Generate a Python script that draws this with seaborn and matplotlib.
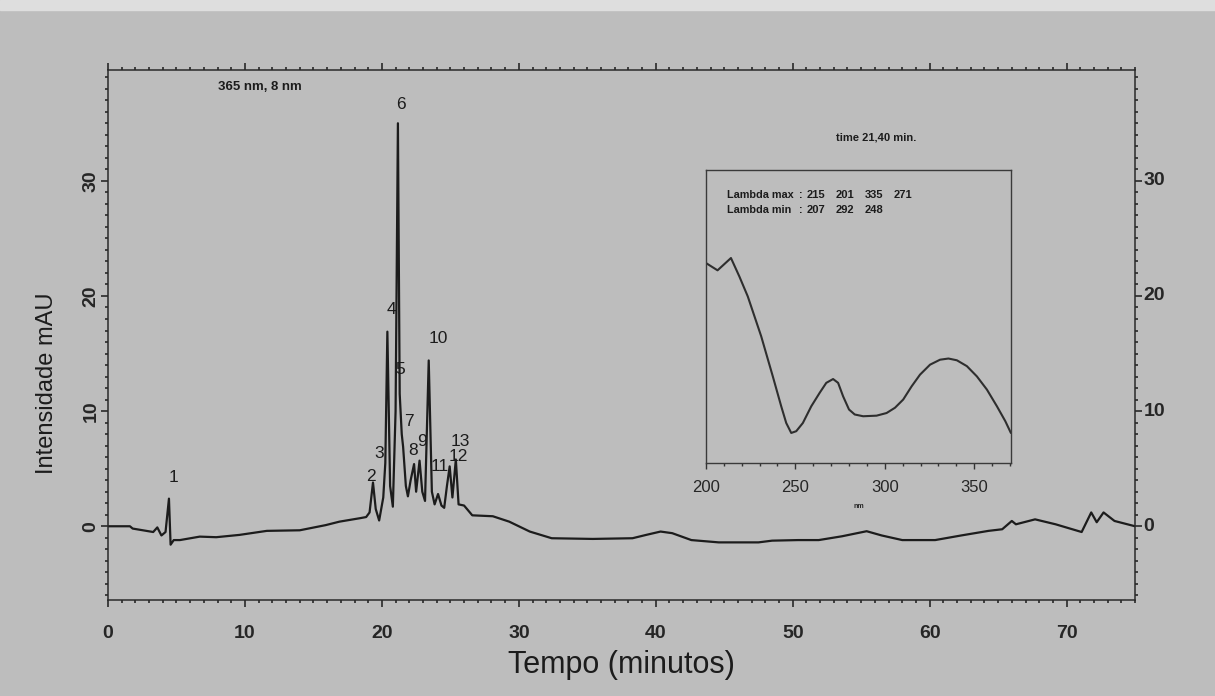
"""
Cromatograma (365 nm) com espectro UV do pico 6 em destaque.
Valores lidos da figura digitalizada.
"""

import matplotlib.pyplot as plt
import numpy as np
import pandas as pd
import seaborn as sns
from matplotlib.patches import Rectangle
from matplotlib.ticker import MultipleLocator

sns.set_theme(style='ticks')
plt.rcParams['font.family'] = ['Liberation Sans', 'DejaVu Sans']

BG = '#bdbdbd'
INK = '#1c1c1c'

# cromatograma: tempo (min) e intensidade (mAU)
tempo = [
    0, 1.6, 1.8, 3.3, 3.6, 3.9, 4.2, 4.45, 4.57, 4.8, 5.25, 6.7, 7.9, 9.6,
    11.6, 14.0, 15.9, 16.9, 18.4, 18.85, 19.1, 19.35, 19.55, 19.8, 20.1,
    20.25, 20.4, 20.6, 20.8, 21.0, 21.17, 21.3, 21.45, 21.55, 21.75, 21.9,
    22.1, 22.35, 22.5, 22.75, 22.95, 23.15, 23.42, 23.65, 23.85, 24.1,
    24.35, 24.55, 24.75, 24.95, 25.15, 25.4, 25.6, 26.0, 26.6, 28.1, 29.3,
    30.8, 32.4, 35.4, 38.3, 39.3, 40.35, 41.2, 42.6, 44.6, 47.5, 48.5, 50.4,
    51.9, 53.6, 55.4, 56.5, 58.0, 60.4, 62.3, 64.3, 65.3, 66.0, 66.3, 67.7,
    69.2, 71.1, 71.8, 72.2, 72.7, 73.5, 75.0,
]
intensidade = [
    0.0, 0.0, -0.2, -0.5, -0.1, -0.8, -0.5, 2.4, -1.6, -1.2, -1.2, -0.9,
    -0.95, -0.75, -0.4, -0.35, 0.1, 0.4, 0.7, 0.8, 1.2, 3.8, 1.5, 0.5, 2.5,
    5.5, 16.9, 3.5, 1.7, 10.0, 35.0, 11.5, 8.0, 6.9, 3.5, 2.6, 4.0, 5.4,
    3.0, 5.7, 3.0, 2.2, 14.4, 3.0, 1.9, 2.8, 1.8, 1.6, 3.5, 5.2, 2.5, 5.8,
    1.9, 1.8, 0.95, 0.87, 0.4, -0.46, -1.04, -1.1, -1.04, -0.75, -0.46,
    -0.6, -1.2, -1.4, -1.4, -1.25, -1.2, -1.2, -0.87, -0.43, -0.8, -1.2,
    -1.2, -0.8, -0.4, -0.26, 0.46, 0.17, 0.6, 0.17, -0.5, 1.2, 0.35, 1.2,
    0.46, 0.0,
]

# rótulos dos picos (texto, tempo, intensidade)
pico_txt = ['1', '2', '3', '4', '5', '6', '7', '8', '9', '10', '11', '12', '13']
pico_t = [4.8, 19.2, 19.8, 20.7, 21.35, 21.4, 21.95, 22.3, 22.95, 24.15, 24.2, 25.55, 25.75]
pico_y = [4.2, 4.3, 6.3, 18.8, 13.6, 36.6, 9.1, 6.6, 7.4, 16.3, 5.2, 6.1, 7.4]

# espectro UV (inserção)
comp_onda = [
    200.0, 206.5, 214.0, 218.7, 223.4, 230.9, 237.4, 242.1, 244.9, 247.7,
    250.5, 254.2, 258.9, 263.6, 267.3, 271.1, 273.9, 276.7, 280.0, 283.2,
    287.9, 295.4, 301.0, 305.7, 310.3, 315.0, 319.7, 325.3, 330.9, 335.6,
    340.3, 345.9, 351.5, 357.1, 362.7, 367.4, 370.5,
]
absorb = [
    68.2, 65.7, 69.9, 63.6, 56.8, 43.2, 29.5, 19.3, 13.6, 10.2, 10.8, 13.6,
    19.3, 23.9, 27.3, 28.6, 27.3, 22.7, 18.2, 16.5, 15.9, 16.1, 17.0, 18.8,
    21.6, 26.1, 30.1, 33.5, 35.2, 35.6, 35.0, 33.0, 29.5, 25.0, 19.3, 14.2,
    10.2,
]

lambda_max = ['215', '201', '335', '271']
lambda_min = ['207', '292', '248']

crom = pd.DataFrame({'tempo': tempo, 'mAU': intensidade})
espec = pd.DataFrame({'nm': comp_onda, 'abs': absorb})

fig = plt.figure(figsize=(12.15, 6.96), dpi=100, facecolor=BG)
fig.patches.append(Rectangle((0, 0.985), 1, 0.015, transform=fig.transFigure,
                             color='#dedede', zorder=-1))

ax = fig.add_axes([0.0889, 0.138, 0.8453, 0.761])
ax.set_facecolor(BG)
sns.lineplot(data=crom, x='tempo', y='mAU', estimator=None, sort=False,
             color=INK, linewidth=1.6, ax=ax)

ax.set_xlim(0, 75)
ax.set_ylim(-6.4, 39.6)
ax.set_xticks(np.arange(0, 71, 10))
ax.set_yticks([0, 10, 20, 30])
ax.xaxis.set_minor_locator(MultipleLocator(1))
ax.yaxis.set_minor_locator(MultipleLocator(1))
ax.tick_params(which='both', direction='out', top=True, right=True,
               labelright=True, color=INK, width=1.1)
ax.tick_params(which='major', length=5)
ax.tick_params(which='minor', length=2.5)
ax.tick_params(axis='x', pad=13)
ax.tick_params(axis='y', pad=1)
for spine in ax.spines.values():
    spine.set_color('#2a2a2a')
    spine.set_linewidth(1.1)

for tick in ax.xaxis.get_major_ticks():
    tick.label1.set_fontweight('bold')
    tick.label1.set_fontsize(14)
for tick in ax.yaxis.get_major_ticks():
    tick.label1.set_fontweight('bold')
    tick.label1.set_fontsize(14)
    tick.label1.set_rotation(90)
    tick.label1.set_va('center')
    tick.label2.set_fontweight('bold')
    tick.label2.set_fontsize(14)
    tick.label2.set_rotation(0)
    tick.label2.set_va('center')

ax.set_xlabel('Tempo (minutos)', fontsize=22, color=INK, labelpad=6)
ax.set_ylabel('Intensidade mAU', fontsize=17, color=INK)
ax.yaxis.set_label_coords(-0.049, 0.41)

for txt, t, y in zip(pico_txt, pico_t, pico_y):
    ax.text(t, y, txt, fontsize=12.5, color=INK, ha='center', va='center')

ax.text(0.148, 0.968, '365 nm, 8 nm', transform=ax.transAxes, fontsize=9.5,
        fontweight='bold', ha='center', va='center', color=INK)

# inserção: espectro UV
axi = fig.add_axes([0.581, 0.335, 0.251, 0.421])
axi.set_facecolor(BG)
sns.lineplot(data=espec, x='nm', y='abs', estimator=None, sort=False,
             color='#2e2e2e', linewidth=1.5, ax=axi)
axi.set_xlim(200, 370.5)
axi.set_ylim(0, 100)
axi.set_yticks([])
axi.set_xticks([200, 250, 300, 350])
axi.xaxis.set_minor_locator(MultipleLocator(10))
axi.tick_params(which='both', direction='out', color='#333333', width=1)
axi.tick_params(which='major', length=4, pad=8, labelsize=12)
axi.tick_params(which='minor', length=2)
axi.set_ylabel('')
axi.set_xlabel('nm', fontsize=5, fontweight='bold', labelpad=6)
for spine in axi.spines.values():
    spine.set_color('#3a3a3a')
    spine.set_linewidth(1.0)

axi.text(0.069, 0.915, 'Lambda max', transform=axi.transAxes, fontsize=7.8,
         fontweight='bold', va='center', color=INK)
axi.text(0.069, 0.863, 'Lambda min', transform=axi.transAxes, fontsize=7.8,
         fontweight='bold', va='center', color=INK)
axi.text(0.31, 0.915, ':', transform=axi.transAxes, fontsize=7.8,
         fontweight='bold', ha='center', va='center', color=INK)
axi.text(0.31, 0.863, ':', transform=axi.transAxes, fontsize=7.8,
         fontweight='bold', ha='center', va='center', color=INK)
for i, v in enumerate(lambda_max):
    axi.text(0.36 + 0.095 * i, 0.915, v, transform=axi.transAxes, fontsize=8,
             fontweight='bold', ha='center', va='center', color=INK)
for i, v in enumerate(lambda_min):
    axi.text(0.36 + 0.095 * i, 0.863, v, transform=axi.transAxes, fontsize=8,
             fontweight='bold', ha='center', va='center', color=INK)
fig.text(0.721, 0.803, 'time 21,40 min.', fontsize=8, fontweight='bold',
         ha='center', va='center', color=INK)

fig.savefig('out.png', dpi=100, facecolor=BG)
